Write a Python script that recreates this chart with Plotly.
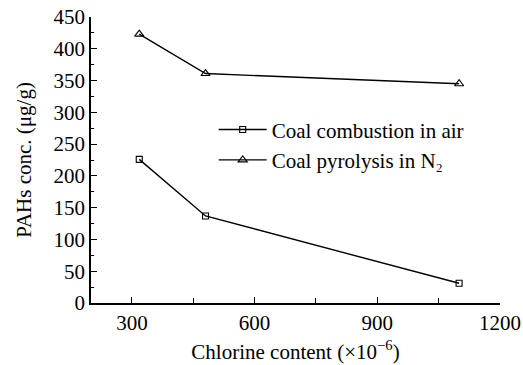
import plotly.graph_objects as go

chlorine = [318, 480, 1100]
combustion_air = [226, 137, 31]
pyrolysis_n2 = [423, 361, 345]

names = ["Coal combustion in air", "Coal pyrolysis in N₂"]
x_ticks = [300, 600, 900, 1200]
y_ticks = [0, 50, 100, 150, 200, 250, 300, 350, 400, 450]

font = dict(family="Liberation Serif, Times New Roman, serif", size=21, color="black")

fig = go.Figure()
fig.add_trace(go.Scatter(x=chlorine, y=combustion_air, mode="lines+markers", name=names[0],
                         line=dict(color="black", width=1.4),
                         marker=dict(symbol="square-open", size=6, color="black", line=dict(width=1.1))))
fig.add_trace(go.Scatter(x=chlorine, y=pyrolysis_n2, mode="lines+markers", name=names[1],
                         line=dict(color="black", width=1.4),
                         marker=dict(symbol="triangle-up-open", size=8, color="black", line=dict(width=1.1))))

fig.update_layout(
    width=523, height=365,
    margin=dict(l=91, r=23, t=17, b=62),
    paper_bgcolor="white", plot_bgcolor="white",
    font=font,
    showlegend=True,
    legend=dict(x=0.30, y=0.677, xanchor="left", yanchor="top", bgcolor="rgba(0,0,0,0)",
                font=font, tracegroupgap=0, itemwidth=48),
    xaxis=dict(range=[200, 1200], tickvals=x_ticks, ticks="inside", ticklen=6, tickwidth=1.2,
               tickcolor="black", showline=True, linecolor="black", linewidth=1.5,
               showgrid=False, zeroline=False, automargin=False,
               minor=dict(tickvals=[450, 750, 1050], ticks="inside", ticklen=5, tickwidth=1.2, tickcolor="black"),
               title=dict(text="Chlorine content (×10<sup>−6</sup>)", font=font, standoff=10)),
    yaxis=dict(range=[0, 450], tickvals=y_ticks, ticks="inside", ticklen=6, tickwidth=1.2,
               tickcolor="black", showline=True, linecolor="black", linewidth=1.5,
               showgrid=False, zeroline=False, automargin=False,
               minor=dict(dtick=25, ticks="inside", ticklen=3, tickwidth=1.2, tickcolor="black"),
               title=dict(text="PAHs conc. (μg/g)", font=font, standoff=16)),
)

fig.write_html("out.html")
